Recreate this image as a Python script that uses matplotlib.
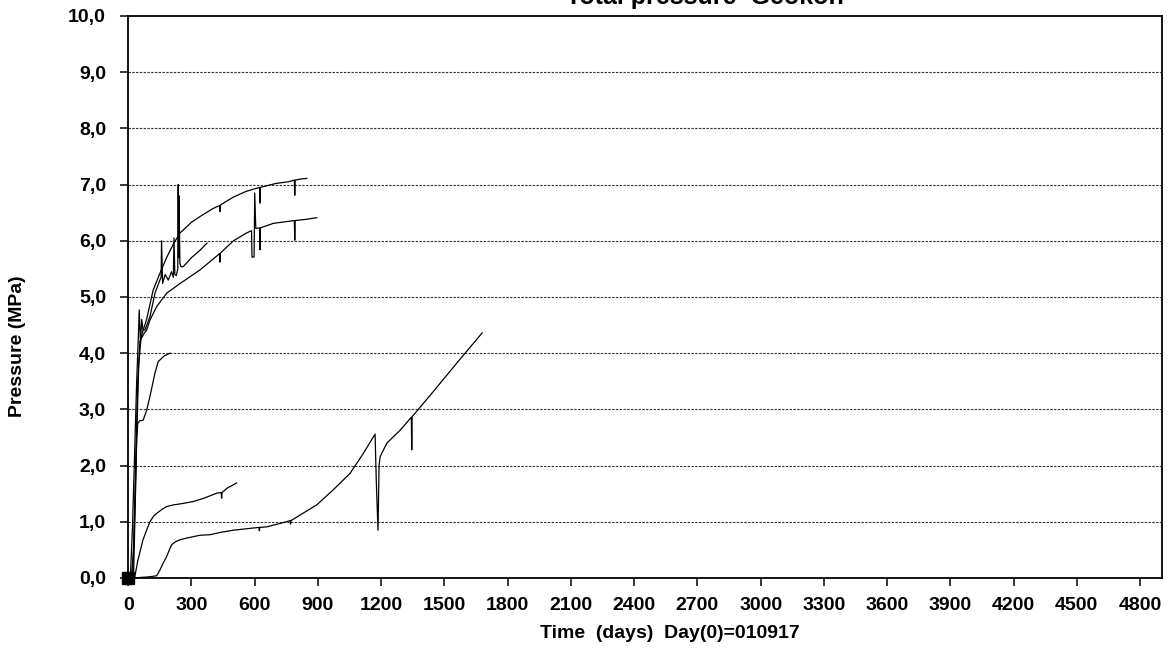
import matplotlib
matplotlib.use("Agg")
import matplotlib.pyplot as plt
from matplotlib.ticker import FuncFormatter, MultipleLocator

plt.rcParams['font.family'] = ['Liberation Sans', 'DejaVu Sans']
plt.rcParams['font.weight'] = 'bold'

# ---- data (days, MPa) ----
a_x = [15, 25, 35, 45, 55, 70, 87, 118, 150, 182, 215, 246, 300, 340, 400,
       434, 436, 438, 500, 560, 623, 625, 627, 700, 760, 788, 790, 792, 820, 847]
a_y = [0.0, 0.5, 2.0, 3.5, 4.2, 4.4, 4.6, 5.12, 5.42, 5.7, 5.95, 6.14, 6.33, 6.43, 6.57,
       6.63, 6.52, 6.64, 6.78, 6.88, 6.95, 6.67, 6.95, 7.02, 7.05, 7.08, 6.81, 7.08, 7.1, 7.11]

b_x = [20, 30, 40, 50, 60, 75, 87, 103, 135, 183, 246, 340, 433, 435, 437, 499, 562,
       585, 587, 597, 600, 605, 623, 625, 627, 688, 788, 790, 792, 840, 894]
b_y = [0.0, 1.0, 2.5, 3.8, 4.25, 4.35, 4.41, 4.59, 4.83, 5.07, 5.24, 5.48, 5.77, 5.62, 5.78, 6.0, 6.14,
       6.18, 5.71, 5.71, 6.85, 6.22, 6.23, 5.84, 6.23, 6.31, 6.36, 6.01, 6.36, 6.38, 6.41]

c_x = [10, 20, 30, 40, 48, 52, 58, 64, 70, 79, 103, 127, 150, 156, 158, 163, 175, 190, 205,
       214, 217, 221, 228, 235, 237, 239, 241, 245, 250, 261, 300, 340, 374]
c_y = [0.0, 0.9, 2.2, 3.5, 4.3, 4.77, 4.2, 4.6, 4.41, 4.41, 4.65, 5.07, 5.3, 5.35, 6.0, 5.24, 5.4, 5.3, 5.45,
       5.35, 6.05, 5.4, 5.38, 5.5, 7.0, 5.7, 6.8, 5.6, 5.54, 5.54, 5.7, 5.83, 5.96]

d_x = [25, 30, 35, 40, 45, 55, 65, 71, 87, 103, 127, 142, 170, 198]
d_y = [0.0, 0.8, 1.6, 2.46, 2.75, 2.8, 2.8, 2.81, 2.98, 3.23, 3.65, 3.85, 3.95, 4.0]

e_x = [30, 35, 45, 56, 70, 87, 103, 120, 135, 160, 182, 213, 250, 308, 360, 420,
       441, 443, 445, 470, 514]
e_y = [0.0, 0.1, 0.3, 0.47, 0.68, 0.85, 1.0, 1.1, 1.15, 1.22, 1.27, 1.3, 1.32, 1.36, 1.42, 1.51,
       1.52, 1.42, 1.52, 1.6, 1.69]

f_x = [30, 60, 100, 135, 150, 165, 182, 195, 206, 222, 245, 277, 340, 388, 436, 498,
       620, 622, 624, 657, 720, 768, 770, 772, 815, 894, 973, 1052, 1116, 1171,
       1177, 1185, 1190, 1195, 1227, 1290, 1343, 1345, 1347, 1450, 1560, 1679]
f_y = [0.0, 0.01, 0.02, 0.04, 0.14, 0.26, 0.38, 0.5, 0.59, 0.64, 0.68, 0.71, 0.76, 0.77, 0.81, 0.85,
       0.9, 0.84, 0.9, 0.91, 0.97, 1.02, 0.96, 1.02, 1.12, 1.30, 1.57, 1.86, 2.22, 2.56,
       1.7, 0.85, 2.0, 2.16, 2.40, 2.63, 2.86, 2.28, 2.87, 3.33, 3.83, 4.36]

series = [(a_x, a_y), (b_x, b_y), (c_x, c_y), (d_x, d_y), (e_x, e_y), (f_x, f_y)]

start_x = [0]
start_y = [0.0]

x_ticks = list(range(0, 4801, 300))
y_ticks = list(range(0, 11))

# ---- figure ----
fig = plt.figure(figsize=(11.68, 6.5), dpi=100)
ax = fig.add_axes([0.1098, 0.1108, 0.8848, 0.8646])

for xs, ys in series:
    ax.plot(xs, ys, color='black', lw=0.9)

ax.plot(start_x, start_y, marker='s', color='black', ms=8.5, ls='none', clip_on=False, zorder=5)

ax.set_xlim(0, 4903)
ax.set_ylim(0, 10)
ax.set_xticks(x_ticks)
ax.set_yticks(y_ticks)
ax.yaxis.set_major_formatter(FuncFormatter(lambda v, p: f"{v:.1f}".replace('.', ',')))

for yv in y_ticks[1:-1]:
    ax.axhline(yv, color='#333333', lw=0.8, ls=(0, (2.2, 1.2)), zorder=0)

for s in ax.spines.values():
    s.set_linewidth(1.3)
    s.set_color('black')

ax.tick_params(axis='both', direction='out', length=6, width=1.1, colors='black',
               labelsize=14)
ax.tick_params(axis='y', pad=10)
ax.tick_params(axis='x', pad=8)
for lab in ax.get_xticklabels() + ax.get_yticklabels():
    lab.set_fontweight('bold')

fig.text(705 / 1168, 1 - 4 / 650, "Total pressure  Geokon", ha='center', va='baseline',
         fontsize=18, fontweight='bold')
fig.text(670 / 1168, 1 - 633 / 650, "Time  (days)  Day(0)=010917", ha='center', va='center',
         fontsize=14, fontweight='bold')
fig.text(18 / 1168, 1 - 346 / 650, "Pressure (MPa)", ha='center', va='center',
         rotation=90, fontsize=14, fontweight='bold')

fig.savefig("out.png", dpi=100)
